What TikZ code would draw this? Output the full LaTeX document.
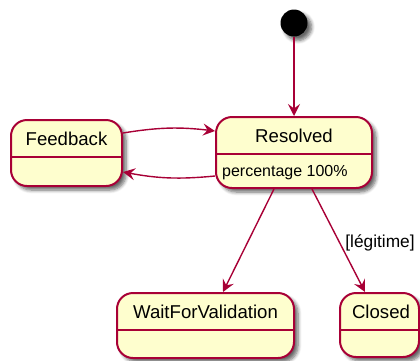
\documentclass[tikz,border=0pt]{standalone}
\usepackage{fontspec}
\setmainfont{Liberation Sans}
\usetikzlibrary{arrows.meta,shadows.blur}
\definecolor{stateborder}{HTML}{A80036}
\definecolor{statefill}{HTML}{FEFECE}
\tikzset{
  softshadow/.style={blur shadow={shadow xshift=4pt, shadow yshift=-4pt, shadow blur steps=6, shadow blur radius=3.5pt, shadow opacity=60}},
  statebox/.style={draw=stateborder, fill=statefill, line width=2pt, rounded corners=16pt, inner sep=0pt, softshadow},
  divider/.style={draw=stateborder, line width=2pt},
  titletext/.style={inner sep=0pt, font=\fontsize{18.6}{22}\selectfont},
  desctext/.style={inner sep=0pt, anchor=west, font=\fontsize{16}{19}\selectfont},
  guardtext/.style={inner sep=0pt, font=\fontsize{17.3}{20}\selectfont},
  trans/.style={draw=stateborder, line width=1.4pt, -{Stealth[length=12pt,width=12pt,inset=4.5pt]}},
  startdot/.style={circle, fill=black, inner sep=0pt, minimum size=27pt, softshadow}
}
\begin{document}
\begin{tikzpicture}[x=1pt, y=-1pt]
  \useasboundingbox (0,0) rectangle (420,360);
  \clip (0,0) rectangle (420,360);

  % initial pseudo-state
  \node[startdot] (init) at (294,23) {};

  % states
  \node[statebox, minimum width=156pt, minimum height=71pt] (res) at (294,152.5) {};
  \node[titletext] (resT) at (294,136) {Resolved};
  \draw[divider] (res.west |- 0,154) -- (res.east |- 0,154);
  \node[desctext] (resD) at (222,173) {percentage 100\%};

  \node[statebox, minimum width=111pt, minimum height=66pt] (fb) at (66.5,153) {};
  \node[titletext] (fbT) at (66.5,139) {Feedback};
  \draw[divider] (fb.west |- 0,157) -- (fb.east |- 0,157);

  \node[statebox, minimum width=177pt, minimum height=65pt] (wfv) at (205.5,325.5) {};
  \node[titletext] (wfvT) at (205.5,312) {WaitForValidation};
  \draw[divider] (wfv.west |- 0,330) -- (wfv.east |- 0,330);

  \node[statebox, minimum width=79pt, minimum height=64pt] (cl) at (379.5,325) {};
  \node[titletext] (clT) at (381,312) {Closed};
  \draw[divider] (cl.west |- 0,330) -- (cl.east |- 0,330);

  % transitions
  \draw[trans] (init.south) -- (res.north);
  \draw[trans] ([yshift=20pt]fb.east) to[bend left=8] ([yshift=21.5pt]res.west);
  \draw[trans] ([yshift=-23.5pt]res.west) to[bend left=8] ([yshift=-19pt]fb.east);
  \draw[trans] ([xshift=-20pt]res.south) -- ([xshift=17.5pt]wfv.north);
  \draw[trans] ([xshift=18pt]res.south) -- ([xshift=-14.5pt]cl.north);
  \node[guardtext] (guard) at (380,243) {[légitime]};
\end{tikzpicture}
\end{document}
